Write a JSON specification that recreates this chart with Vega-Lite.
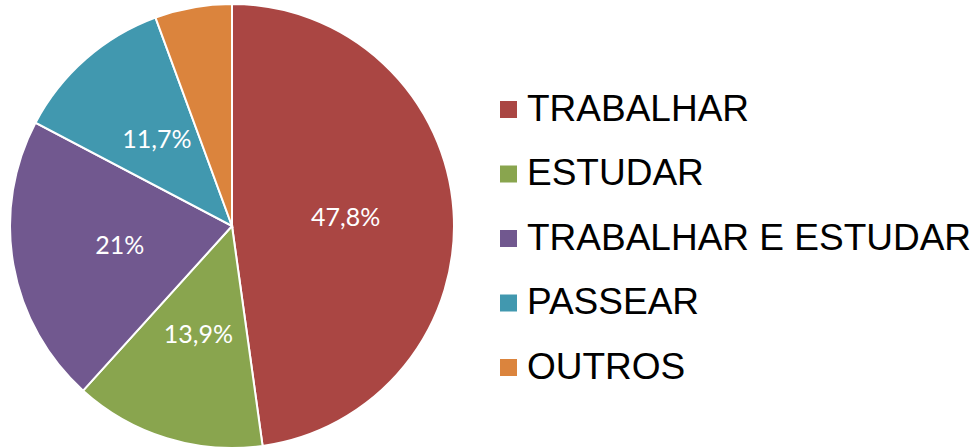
{
  "$schema": "https://vega.github.io/schema/vega-lite/v6.json",
  "width": 464,
  "height": 452,
  "padding": 0,
  "background": "white",
  "config": {"view": {"stroke": null}},
  "data": {
    "values": [
      {"categoria": "TRABALHAR", "valor": 47.8, "rotulo": "47,8%", "ordem": 1},
      {"categoria": "ESTUDAR", "valor": 13.9, "rotulo": "13,9%", "ordem": 2},
      {"categoria": "TRABALHAR E ESTUDAR", "valor": 21, "rotulo": "21%", "ordem": 3},
      {"categoria": "PASSEAR", "valor": 11.7, "rotulo": "11,7%", "ordem": 4},
      {"categoria": "OUTROS", "valor": 5.6, "rotulo": "", "ordem": 5}
    ]
  },
  "encoding": {
    "theta": {"field": "valor", "type": "quantitative", "stack": true},
    "order": {"field": "ordem", "type": "quantitative", "sort": "ascending"}
  },
  "layer": [
    {
      "mark": {"type": "arc", "outerRadius": 222, "stroke": "white", "strokeWidth": 2},
      "encoding": {
        "color": {
          "field": "categoria",
          "type": "nominal",
          "sort": null,
          "scale": {
            "domain": ["TRABALHAR", "ESTUDAR", "TRABALHAR E ESTUDAR", "PASSEAR", "OUTROS"],
            "range": ["#AA4643", "#89A54E", "#71588F", "#4198AF", "#DB843D"]
          },
          "legend": {
            "title": null,
            "orient": "none",
            "legendX": 490,
            "legendY": 91,
            "symbolType": "square",
            "symbolSize": 289,
            "symbolStrokeWidth": 0,
            "labelFont": "Liberation Sans",
            "labelFontSize": 37,
            "labelColor": "black",
            "labelOffset": 0,
            "labelLimit": 600,
            "rowPadding": 26.5
          }
        }
      }
    },
    {
      "mark": {"type": "text", "radius": 114, "font": "Lato", "fontSize": 25, "color": "white"},
      "encoding": {"text": {"field": "rotulo"}}
    }
  ]
}
